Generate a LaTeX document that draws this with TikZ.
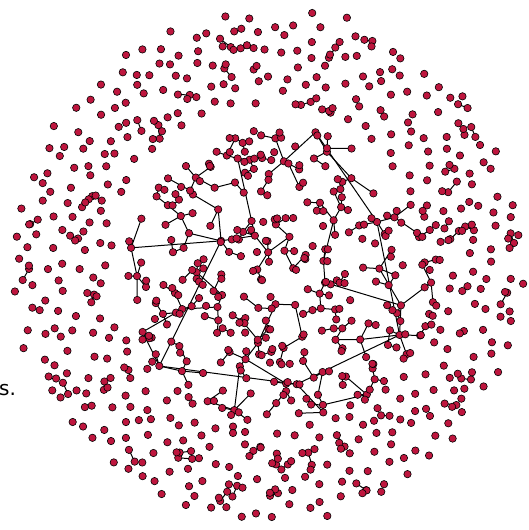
\documentclass[tikz,border=0pt]{standalone}
\usepackage{fontspec}
\newfontfamily\labfont{DejaVu Sans}
\definecolor{dotred}{RGB}{190,22,62}
\tikzset{
  dot/.style={circle,fill=dotred,draw=black,line width=0.6pt,inner sep=0pt,minimum size=7.4pt},
  edge/.style={line width=1pt,draw=black},
  lab/.style={inner sep=0pt,anchor=base west,font=\labfont\fontsize{20}{24}\selectfont}
}
\begin{document}
\begin{tikzpicture}[x=1pt,y=-1pt]
\useasboundingbox (0,0) rectangle (529,530);
\node[lab] (caption) at (-1,395) {s.};
% ---------- central connected structure ----------
\pgfmathsetseed{777}
\foreach \i in {1,...,290}{
  \pgfmathsetmacro\rad{sqrt(rnd)}
  \pgfmathsetmacro\ang{rnd*360}
  \pgfmathsetmacro\nx{282+160*\rad*cos(\ang)}
  \pgfmathsetmacro\ny{277+148*\rad*sin(\ang)}
  \expandafter\xdef\csname tx\i\endcsname{\nx}
  \expandafter\xdef\csname ty\i\endcsname{\ny}
  \coordinate (t\i) at (\nx,\ny);
}
\foreach \i in {2,...,290}{
  \pgfmathtruncatemacro\jj{\i-1}
  \xdef\best{1}\xdef\bestd{9999}
  \foreach \j in {1,...,\jj}{
    \pgfmathsetmacro\dd{((\csname tx\i\endcsname-\csname tx\j\endcsname)/10)^2+((\csname ty\i\endcsname-\csname ty\j\endcsname)/10)^2}
    \ifdim\dd pt<\bestd pt \xdef\bestd{\dd}\xdef\best{\j}\fi
  }
  \draw[edge] (t\best) -- (t\i);
}
% ---------- small components in the outer ring ----------
\pgfmathsetseed{4321}
\foreach \i in {1,...,45}{
  \pgfmathsetmacro\rad{sqrt(rnd*(25.2^2-16.5^2)+16.5^2)*10}
  \pgfmathsetmacro\ang{rnd*360}
  \pgfmathsetmacro\bx{268+\rad*cos(\ang)}
  \pgfmathsetmacro\by{267+\rad*sin(\ang)}
  \pgfmathsetmacro\aa{rnd*360}
  \pgfmathsetmacro\ll{8+rnd*6}
  \coordinate (pa\i) at (\bx,\by);
  \coordinate (pb\i) at ({\bx+\ll*cos(\aa)},{\by+\ll*sin(\aa)});
  \draw[edge] (pa\i) -- (pb\i);
}
\foreach \i in {1,...,45}{
  \node[dot] (na\i) at (pa\i) {};
  \node[dot] (nb\i) at (pb\i) {};
}
% ---------- structure nodes ----------
\foreach \i in {1,...,290}{
  \node[dot] (n\i) at (t\i) {};
}
% ---------- loose dots, outer ring (jittered sunflower) ----------
\pgfmathsetseed{2024}
\foreach \i in {270,...,690}{
  \pgfmathsetmacro\rad{25.5*sqrt(\i/690)*10}
  \pgfmathsetmacro\fr{\i*0.381966}
  \pgfmathsetmacro\ang{360*(\fr-floor(\fr))}
  \pgfmathsetmacro\jx{(rnd-0.5)*14}
  \pgfmathsetmacro\jy{(rnd-0.5)*14}
  \node[dot] (o\i) at ({268+\rad*cos(\ang)+\jx},{267+\rad*sin(\ang)+\jy}) {};
}
% ---------- loose dots, centre ----------
\pgfmathsetseed{99}
\foreach \i in {1,...,50}{
  \pgfmathsetmacro\rad{sqrt(rnd)}
  \pgfmathsetmacro\ang{rnd*360}
  \node[dot] (c\i) at ({280+160*\rad*cos(\ang)},{277+150*\rad*sin(\ang)}) {};
}
\end{tikzpicture}
\end{document}
